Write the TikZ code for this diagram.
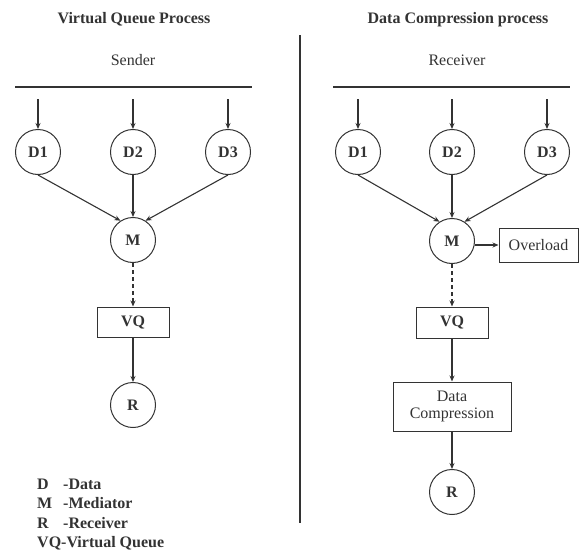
\documentclass[tikz,border=0pt]{standalone}
\usepackage{fontspec}
\setmainfont{Liberation Serif}
\usetikzlibrary{arrows.meta}
\definecolor{ink}{HTML}{333333}
\begin{document}
\begin{tikzpicture}[x=1pt,y=-1pt,
  every node/.style={text=ink,font=\fontsize{16}{18}\selectfont},
  circ/.style={draw=ink,line width=1pt,circle,minimum size=45pt,inner sep=0pt,font=\fontsize{16}{18}\selectfont\bfseries},
  box/.style={draw=ink,line width=1pt,rectangle,inner sep=2pt},
  conn/.style={draw=ink,line width=1.1pt,-{Stealth[length=6pt,width=5pt]}},
  plain/.style={draw=ink,line width=1.1pt},
  ttl/.style={font=\fontsize{16}{18}\selectfont\bfseries,anchor=base},
  leg/.style={font=\fontsize{16}{18}\selectfont\bfseries,anchor=base west,inner sep=0pt}
]
\useasboundingbox (0,0) rectangle (579,552);

% titles
\node[ttl] (t1) at (134,23) {Virtual Queue Process};
\node[ttl] (t2) at (458,23) {Data Compression process};
\node[anchor=base] (snd) at (133,65) {Sender};
\node[anchor=base] (rcv) at (457,65) {Receiver};

% divider
\coordinate (dvt) at (300,35);
\coordinate (dvb) at (300,523);
\draw[plain] (dvt) -- (dvb);

% ---------- left ----------
\coordinate (la) at (15,87);
\coordinate (lb) at (252,87);
\draw[plain] (la) -- (lb);

\node[circ] (LD1) at (38,152) {D1};
\node[circ] (LD2) at (133,152) {D2};
\node[circ] (LD3) at (228,152) {D3};
\coordinate (ls1) at (38,99);
\coordinate (ls2) at (133,99);
\coordinate (ls3) at (228,99);
\draw[conn] (ls1) -- (LD1);
\draw[conn] (ls2) -- (LD2);
\draw[conn] (ls3) -- (LD3);

\node[circ] (LM) at (133,240) {M};
\draw[conn] (LD1.south) -- (LM.123);
\draw[conn] (LD2) -- (LM);
\draw[conn] (LD3.south) -- (LM.57);

\node[box,minimum width=72pt,minimum height=30pt] (LVQ) at (133,322) {\bfseries VQ};
\draw[conn,dashed,dash pattern=on 4pt off 3pt] (LM) -- (LVQ);

\node[circ] (LR) at (133,405) {R};
\draw[conn] (LVQ) -- (LR);

% legend
\node[leg] (k1) at (37,489) {D};
\node[leg] (k1t) at (63,489) {-Data};
\node[leg] (k2) at (37,508) {M};
\node[leg] (k2t) at (63,508) {-Mediator};
\node[leg] (k3) at (37,528) {R};
\node[leg] (k3t) at (63,528) {-Receiver};
\node[leg] (k4) at (37,547) {VQ-Virtual Queue};

% ---------- right ----------
\coordinate (ra) at (333,87);
\coordinate (rb) at (570,87);
\draw[plain] (ra) -- (rb);

\node[circ] (RD1) at (358,152) {D1};
\node[circ] (RD2) at (452,152) {D2};
\node[circ] (RD3) at (547,152) {D3};
\coordinate (rs1) at (358,99);
\coordinate (rs2) at (452,99);
\coordinate (rs3) at (547,99);
\draw[conn] (rs1) -- (RD1);
\draw[conn] (rs2) -- (RD2);
\draw[conn] (rs3) -- (RD3);

\node[circ] (RM) at (452,241) {M};
\draw[conn] (RD1.south) -- (RM.123);
\draw[conn] (RD2) -- (RM);
\draw[conn] (RD3.south) -- (RM.57);

\node[box,minimum width=79pt,minimum height=34pt] (OV) at (538.5,245) {Overload};
\draw[conn] (RM.east |- OV.west) -- (OV.west);

\node[box,minimum width=72pt,minimum height=31pt] (RVQ) at (452,322.5) {\bfseries VQ};
\draw[conn,dashed,dash pattern=on 4pt off 3pt] (RM) -- (RVQ);

\node[box,minimum width=118pt,minimum height=49pt,align=center,font=\fontsize{16}{17}\selectfont] (DC) at (452,406.5) {Data\\Compression};
\draw[conn] (RVQ) -- (DC);

\node[circ] (RR) at (452,492) {R};
\draw[conn] (DC) -- (RR);
\end{tikzpicture}
\end{document}
